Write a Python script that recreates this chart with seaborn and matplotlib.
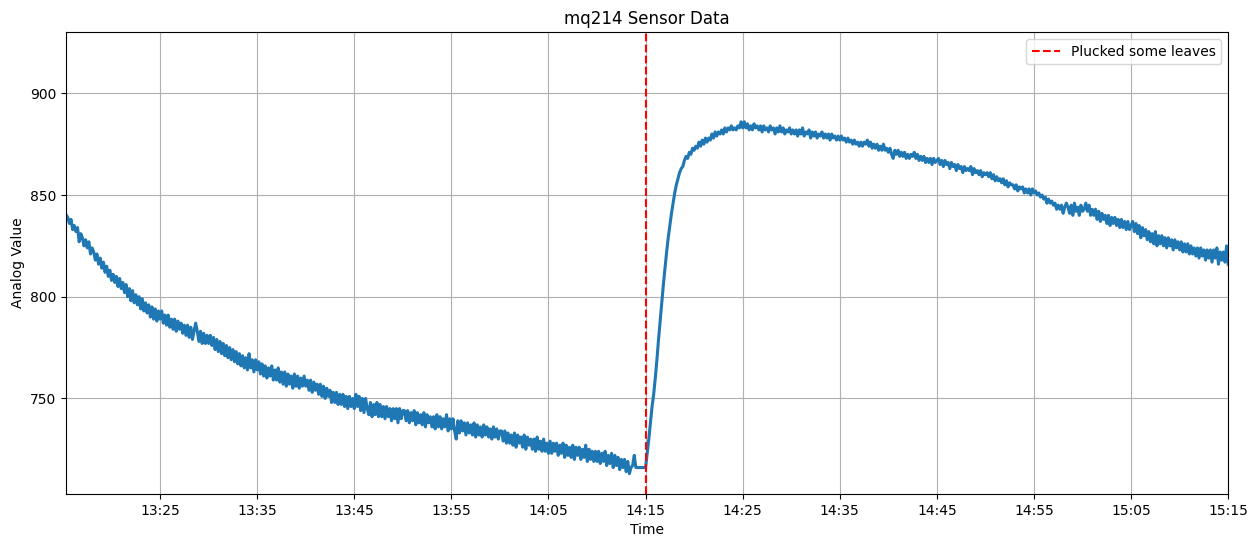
import pandas as pd
import matplotlib
matplotlib.use('Agg')
import matplotlib.pyplot as plt
import matplotlib.dates as mdates
import seaborn as sns

# mq214 readings, one list per 5 minutes (a reading every 10 s)

part_1320 = [842,840,839,836,838,833,835,832,834,827,831,829,825,828,824,827,821,824,822,818,821,816,819,814,817,812,815,810,813,808]
part_1325 = [811,807,810,805,809,804,807,802,806,800,804,798,803,797,801,796,800,794,799,793,797,792,796,790,795,789,794,788,793,789]
part_1330 = [793,787,791,786,791,785,789,784,789,783,788,784,787,782,786,781,786,780,785,779,783,787,783,778,783,777,782,777,781,777]
part_1335 = [781,776,780,774,779,773,778,772,777,771,776,770,775,769,774,768,773,767,772,766,771,765,770,764,772,765,769,763,769,764]
part_1340 = [768,762,767,761,766,760,765,761,766,759,764,759,765,758,763,757,763,756,762,757,761,755,762,756,761,755,760,756,761,756]
part_1345 = [759,754,759,753,758,754,757,752,757,751,756,750,755,751,754,748,753,748,753,747,752,747,752,746,751,745,751,746,750,745]
part_1350 = [752,746,751,744,750,743,750,745,742,748,741,747,742,748,741,747,741,746,740,746,741,745,739,745,740,745,738,745,740,744]
part_1355 = [744,739,744,738,743,739,744,737,743,738,742,737,743,736,742,738,741,736,741,735,742,736,741,735,740,736,742,734,740,735]
part_1400 = [740,734,730,739,733,739,734,738,732,738,733,737,732,738,731,737,732,736,731,737,732,736,731,735,730,736,731,735,730,734]
part_1405 = [734,729,734,728,733,728,732,727,733,726,732,728,731,726,732,725,731,727,730,725,730,724,731,725,729,724,730,724,728,723]
part_1410 = [729,723,728,724,728,722,727,723,728,721,727,722,726,721,727,720,726,722,726,720,725,721,727,719,725,720,724,719,724,719]
part_1415 = [724,718,723,719,724,717,722,718,723,716,722,717,721,715,720,716,720,714,719,713,716,717,722,716,716,716,716,716,716,716]
part_1420 = [723,730,738,746,752,760,769,779,788,797,806,814,822,829,835,841,846,851,855,858,861,863,864,867,869,868,871,870,873,872]
part_1425 = [874,873,876,874,877,875,878,876,878,877,880,878,881,879,881,880,882,880,883,881,883,882,884,882,883,882,884,883,886,883]
part_1430 = [886,883,885,882,884,882,885,883,884,882,884,881,884,882,883,881,884,882,883,880,883,881,884,881,883,880,882,881,883,880]
part_1435 = [882,880,882,879,882,880,883,879,881,880,882,878,881,879,881,878,880,879,881,878,880,878,880,877,880,878,879,877,879,877]
part_1440 = [879,877,878,876,878,876,877,875,877,875,876,874,876,874,876,875,877,874,876,873,875,873,875,872,874,872,875,872,873,871]
part_1445 = [873,870,868,872,870,872,869,871,869,871,868,870,868,870,869,871,868,870,867,869,867,869,866,868,866,868,865,868,866,867]
part_1450 = [868,865,867,864,867,865,866,863,866,864,865,862,865,863,864,861,864,862,863,862,864,860,863,861,862,860,862,859,861,860]
part_1455 = [861,859,861,858,860,857,859,857,858,856,858,855,857,854,856,855,855,853,855,852,854,853,854,851,853,851,853,850,853,851]
part_1500 = [852,850,851,849,850,848,849,846,848,846,847,845,846,843,845,843,845,841,844,846,844,841,845,840,846,842,844,840,845,842]
part_1505 = [843,846,842,845,840,843,840,843,838,842,837,841,838,840,836,840,835,839,836,839,835,838,834,838,834,837,833,837,833,835]
part_1510 = [837,832,836,831,835,829,834,830,833,828,832,827,831,826,832,825,830,826,830,825,829,824,829,825,828,823,828,824,827,823]
part_1515 = [827,822,826,822,826,821,825,821,824,820,824,819,824,820,823,818,823,819,823,817,823,819,824,816,822,818,822,817,825,816]

values = (part_1320 + part_1325 + part_1330 + part_1335 + part_1340 + part_1345
          + part_1350 + part_1355 + part_1400 + part_1405 + part_1410 + part_1415
          + part_1420 + part_1425 + part_1430 + part_1435 + part_1440 + part_1445
          + part_1450 + part_1455 + part_1500 + part_1505 + part_1510 + part_1515)

# Prepare DataFrame:

df = pd.DataFrame({
    'time': pd.date_range('2024-01-01 13:15:10', periods=len(values), freq='10s'),
    'value': values,
})

# Plot the results:

fig, ax = plt.subplots(figsize=(12.57, 5.47), dpi=100)
fig.subplots_adjust(left=66.2/1257, right=1228.2/1257, top=1-32.3/547, bottom=1-494/547)

sns.lineplot(data=df, x='time', y='value', estimator=None, sort=False, linewidth=2.2, ax=ax)
ax.axvline(pd.Timestamp('2024-01-01 14:15:00'), color='red', linestyle='--',
           label='Plucked some leaves')

ax.set_xlim(pd.Timestamp('2024-01-01 13:15:20'), pd.Timestamp('2024-01-01 15:15:00'))
ax.set_ylim(703, 930)
ax.set_yticks([750, 800, 850, 900])
ax.xaxis.set_major_locator(mdates.MinuteLocator(byminute=[5, 15, 25, 35, 45, 55]))
ax.xaxis.set_major_formatter(mdates.DateFormatter('%H:%M'))

ax.set_title('mq214 Sensor Data')
ax.set_xlabel('Time')
ax.set_ylabel('Analog Value')
ax.grid(True)
ax.legend(loc='upper right')

fig.savefig('out.png', dpi=100)
